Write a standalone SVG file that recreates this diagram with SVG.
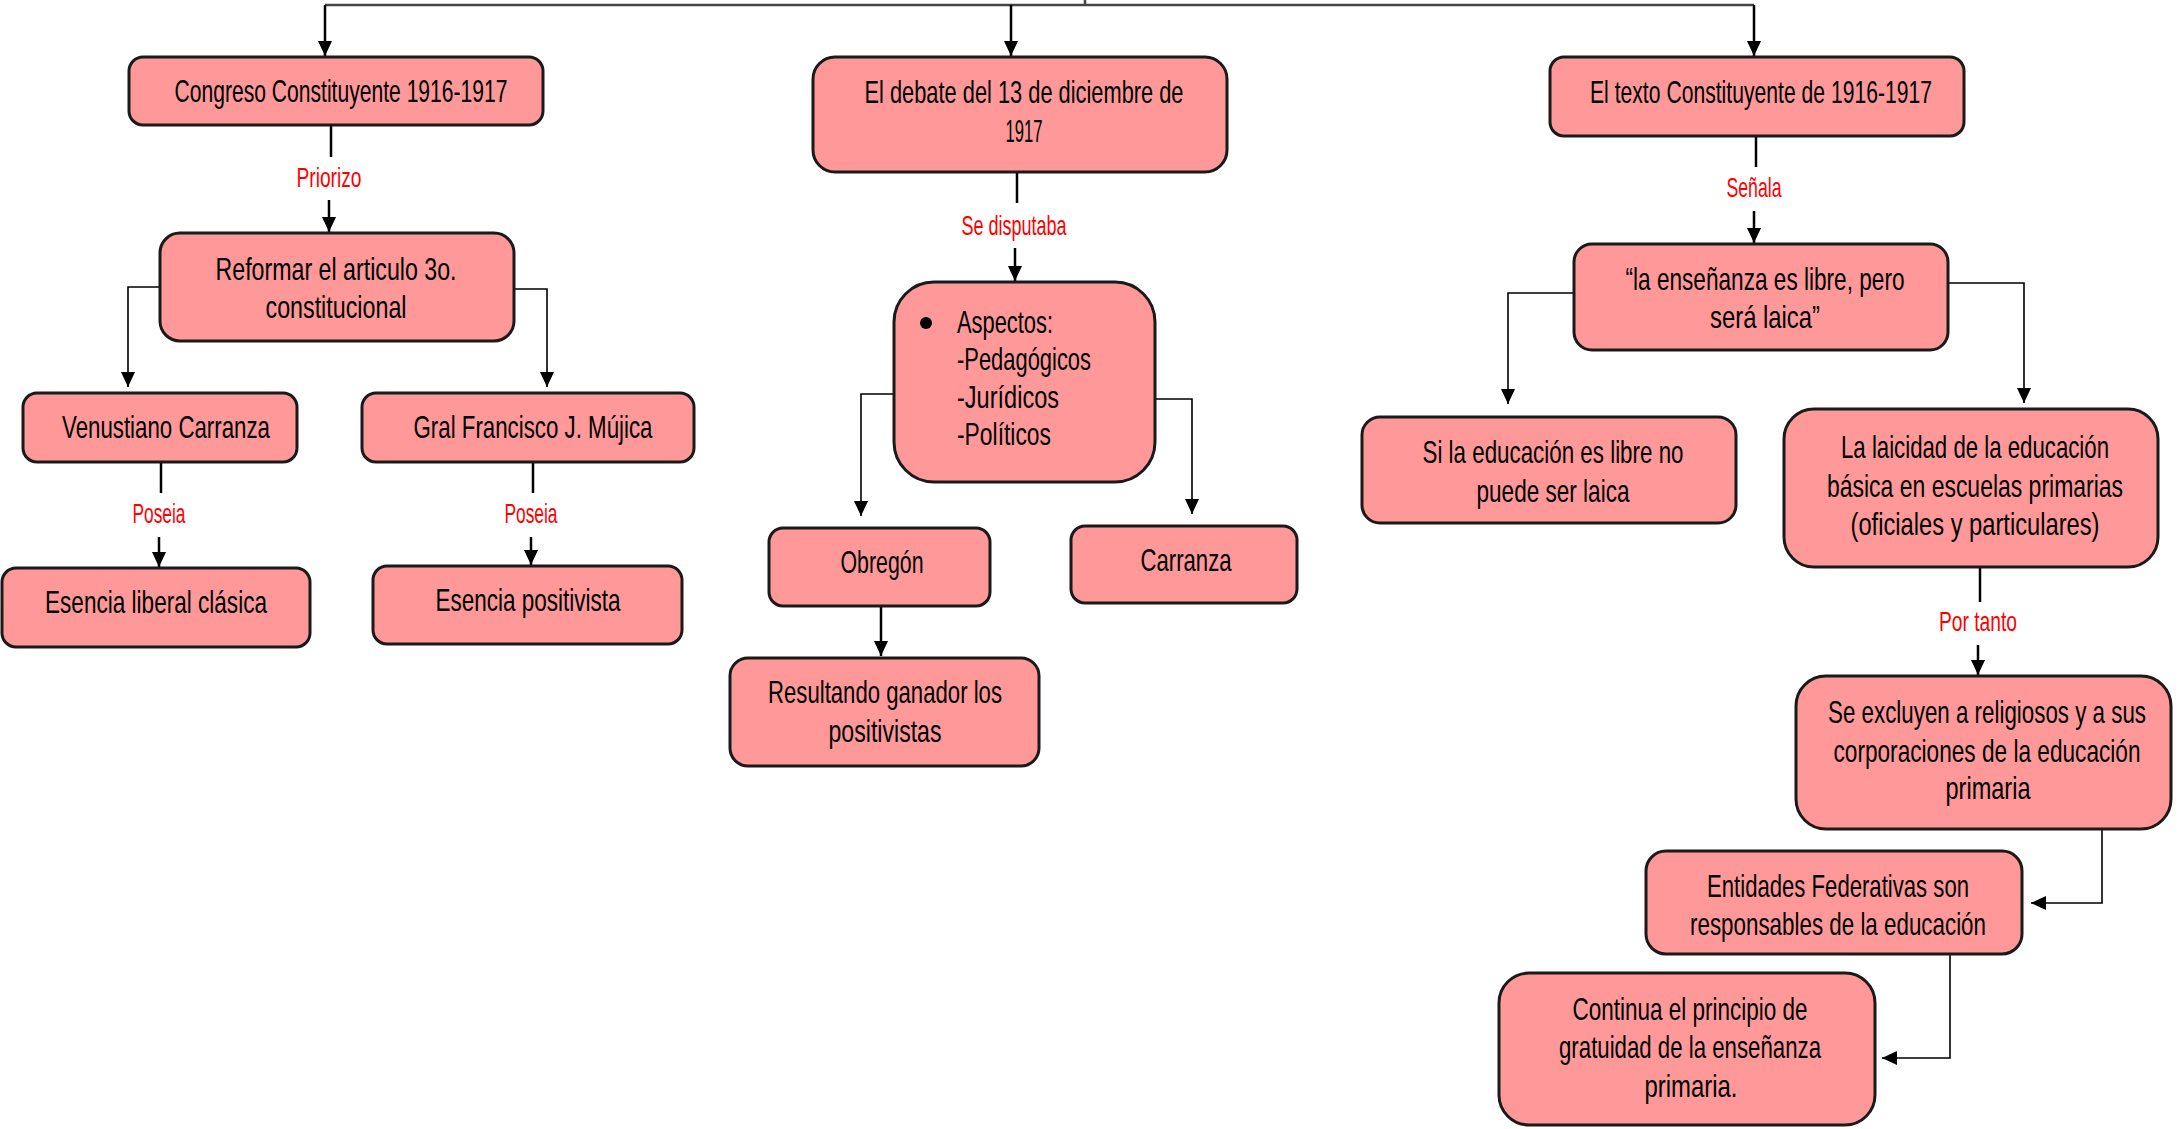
<svg xmlns="http://www.w3.org/2000/svg" width="2179" height="1129" viewBox="0 0 2179 1129">
<style>
.n{fill:#FF9999;stroke:#1a1a1a;stroke-width:3}
.t{font-family:"Liberation Sans Narrow","Liberation Sans",Arial,sans-serif;font-size:32px;fill:#000;text-anchor:middle}
.ts{font-family:"Liberation Sans Narrow","Liberation Sans",Arial,sans-serif;font-size:32px;fill:#000;text-anchor:start}
.l{font-family:"Liberation Sans Narrow","Liberation Sans",Arial,sans-serif;font-size:28px;fill:#FF0000;text-anchor:middle}
.c{fill:none;stroke:#000;stroke-width:2.5}
.cs{fill:none;stroke:#000;stroke-width:1.6}
.top{fill:none;stroke:#444;stroke-width:2.5}
</style>
<defs>
<marker id="ah" viewBox="0 0 15 14" refX="15" refY="7" markerWidth="15" markerHeight="14" orient="auto" markerUnits="userSpaceOnUse">
<path d="M0,0 L15,7 L0,14 z" fill="#000"/>
</marker>
</defs>
<g id="connectors">
<path class="top" d="M325,5 H1754"/>
<path class="top" d="M1085,0 V5"/>
<path class="c" d="M325,5 V56" marker-end="url(#ah)"/>
<path class="c" d="M1011,5 V56" marker-end="url(#ah)"/>
<path class="c" d="M1754,5 V56" marker-end="url(#ah)"/>
<path class="c" d="M331,125 V157"/>
<path class="c" d="M329,200 V232" marker-end="url(#ah)"/>
<path class="cs" d="M160,287 H128 V387" marker-end="url(#ah)"/>
<path class="cs" d="M514,289 H547 V387" marker-end="url(#ah)"/>
<path class="c" d="M161,462 V493"/>
<path class="c" d="M159,537 V567" marker-end="url(#ah)"/>
<path class="c" d="M533,462 V493"/>
<path class="c" d="M531,537 V565" marker-end="url(#ah)"/>
<path class="c" d="M1017,172 V203"/>
<path class="c" d="M1015,248 V281" marker-end="url(#ah)"/>
<path class="cs" d="M894,394 H861 V516" marker-end="url(#ah)"/>
<path class="cs" d="M1155,399 H1192 V514" marker-end="url(#ah)"/>
<path class="c" d="M881,606 V656" marker-end="url(#ah)"/>
<path class="c" d="M1756,136 V167"/>
<path class="c" d="M1754,211 V243" marker-end="url(#ah)"/>
<path class="cs" d="M1574,293 H1508 V404" marker-end="url(#ah)"/>
<path class="cs" d="M1948,283 H2024 V403" marker-end="url(#ah)"/>
<path class="c" d="M1980,567 V602"/>
<path class="c" d="M1978,645 V675" marker-end="url(#ah)"/>
<path class="cs" d="M2102,829 V903 H2031" marker-end="url(#ah)"/>
<path class="cs" d="M1950,954 V1058 H1882" marker-end="url(#ah)"/>
<text class="l" x="329" y="187" textLength="65" lengthAdjust="spacingAndGlyphs">Priorizo</text>
<text class="l" x="159" y="523" textLength="53" lengthAdjust="spacingAndGlyphs">Poseia</text>
<text class="l" x="531" y="523" textLength="53" lengthAdjust="spacingAndGlyphs">Poseia</text>
<text class="l" x="1014" y="235" textLength="105" lengthAdjust="spacingAndGlyphs">Se disputaba</text>
<text class="l" x="1754" y="197" textLength="55" lengthAdjust="spacingAndGlyphs">Señala</text>
<text class="l" x="1978" y="631" textLength="78" lengthAdjust="spacingAndGlyphs">Por tanto</text>
</g>
<g id="congreso">
<rect class="n" x="129" y="57" width="414" height="68" rx="14"/>
<text class="t" x="341" y="102" textLength="333" lengthAdjust="spacingAndGlyphs">Congreso Constituyente 1916-1917</text>
</g>
<g id="debate">
<rect class="n" x="813" y="57" width="414" height="115" rx="22"/>
<text class="t" x="1024" y="103" textLength="319" lengthAdjust="spacingAndGlyphs">El debate del 13 de diciembre de</text>
<text class="t" x="1024" y="142" textLength="37" lengthAdjust="spacingAndGlyphs">1917</text>
</g>
<g id="texto">
<rect class="n" x="1550" y="57" width="414" height="79" rx="14"/>
<text class="t" x="1761" y="103" textLength="342" lengthAdjust="spacingAndGlyphs">El texto Constituyente de 1916-1917</text>
</g>
<g id="reformar">
<rect class="n" x="160" y="233" width="354" height="108" rx="20"/>
<text class="t" x="336" y="280" textLength="241" lengthAdjust="spacingAndGlyphs">Reformar el articulo 3o.</text>
<text class="t" x="336" y="318" textLength="141" lengthAdjust="spacingAndGlyphs">constitucional</text>
</g>
<g id="venustiano">
<rect class="n" x="23" y="393" width="274" height="69" rx="14"/>
<text class="t" x="166" y="438" textLength="208" lengthAdjust="spacingAndGlyphs">Venustiano Carranza</text>
</g>
<g id="mujica">
<rect class="n" x="362" y="393" width="332" height="69" rx="14"/>
<text class="t" x="533" y="438" textLength="239" lengthAdjust="spacingAndGlyphs">Gral Francisco J. Mújica</text>
</g>
<g id="esencia-liberal">
<rect class="n" x="2" y="568" width="308" height="79" rx="14"/>
<text class="t" x="156" y="613" textLength="222" lengthAdjust="spacingAndGlyphs">Esencia liberal clásica</text>
</g>
<g id="esencia-positivista">
<rect class="n" x="373" y="566" width="309" height="78" rx="14"/>
<text class="t" x="528" y="611" textLength="185" lengthAdjust="spacingAndGlyphs">Esencia positivista</text>
</g>
<g id="aspectos">
<rect class="n" x="894" y="282" width="261" height="200" rx="40"/>
<circle cx="926" cy="323" r="6" fill="#000"/>
<text class="ts" x="957" y="333" textLength="96" lengthAdjust="spacingAndGlyphs">Aspectos:</text>
<text class="ts" x="957" y="370" textLength="134" lengthAdjust="spacingAndGlyphs">-Pedagógicos</text>
<text class="ts" x="957" y="408" textLength="102" lengthAdjust="spacingAndGlyphs">-Jurídicos</text>
<text class="ts" x="957" y="445" textLength="94" lengthAdjust="spacingAndGlyphs">-Políticos</text>
</g>
<g id="obregon">
<rect class="n" x="769" y="528" width="221" height="78" rx="14"/>
<text class="t" x="882" y="573" textLength="83" lengthAdjust="spacingAndGlyphs">Obregón</text>
</g>
<g id="carranza">
<rect class="n" x="1071" y="526" width="226" height="77" rx="14"/>
<text class="t" x="1186" y="571" textLength="91" lengthAdjust="spacingAndGlyphs">Carranza</text>
</g>
<g id="resultando">
<rect class="n" x="730" y="658" width="309" height="108" rx="18"/>
<text class="t" x="885" y="703" textLength="234" lengthAdjust="spacingAndGlyphs">Resultando ganador los</text>
<text class="t" x="885" y="742" textLength="113" lengthAdjust="spacingAndGlyphs">positivistas</text>
</g>
<g id="ensenanza">
<rect class="n" x="1574" y="244" width="374" height="106" rx="18"/>
<text class="t" x="1765" y="290" textLength="279" lengthAdjust="spacingAndGlyphs">“la enseñanza es libre, pero</text>
<text class="t" x="1765" y="328" textLength="110" lengthAdjust="spacingAndGlyphs">será laica”</text>
</g>
<g id="si-libre">
<rect class="n" x="1362" y="417" width="374" height="106" rx="18"/>
<text class="t" x="1553" y="463" textLength="261" lengthAdjust="spacingAndGlyphs">Si la educación es libre no</text>
<text class="t" x="1553" y="502" textLength="153" lengthAdjust="spacingAndGlyphs">puede ser laica</text>
</g>
<g id="laicidad">
<rect class="n" x="1784" y="409" width="374" height="158" rx="30"/>
<text class="t" x="1975" y="458" textLength="268" lengthAdjust="spacingAndGlyphs">La laicidad de la educación</text>
<text class="t" x="1975" y="497" textLength="296" lengthAdjust="spacingAndGlyphs">básica en escuelas primarias</text>
<text class="t" x="1975" y="535" textLength="249" lengthAdjust="spacingAndGlyphs">(oficiales y particulares)</text>
</g>
<g id="excluyen">
<rect class="n" x="1796" y="676" width="375" height="153" rx="30"/>
<text class="t" x="1987" y="723" textLength="318" lengthAdjust="spacingAndGlyphs">Se excluyen a religiosos y a sus</text>
<text class="t" x="1987" y="762" textLength="307" lengthAdjust="spacingAndGlyphs">corporaciones de la educación</text>
<text class="t" x="1988" y="799" textLength="85" lengthAdjust="spacingAndGlyphs">primaria</text>
</g>
<g id="entidades">
<rect class="n" x="1646" y="851" width="376" height="103" rx="20"/>
<text class="t" x="1838" y="897" textLength="262" lengthAdjust="spacingAndGlyphs">Entidades Federativas son</text>
<text class="t" x="1838" y="935" textLength="296" lengthAdjust="spacingAndGlyphs">responsables de la educación</text>
</g>
<g id="continua">
<rect class="n" x="1499" y="973" width="376" height="152" rx="30"/>
<text class="t" x="1690" y="1020" textLength="235" lengthAdjust="spacingAndGlyphs">Continua el principio de</text>
<text class="t" x="1690" y="1058" textLength="262" lengthAdjust="spacingAndGlyphs">gratuidad de la enseñanza</text>
<text class="t" x="1691" y="1097" textLength="93" lengthAdjust="spacingAndGlyphs">primaria.</text>
</g>
</svg>
